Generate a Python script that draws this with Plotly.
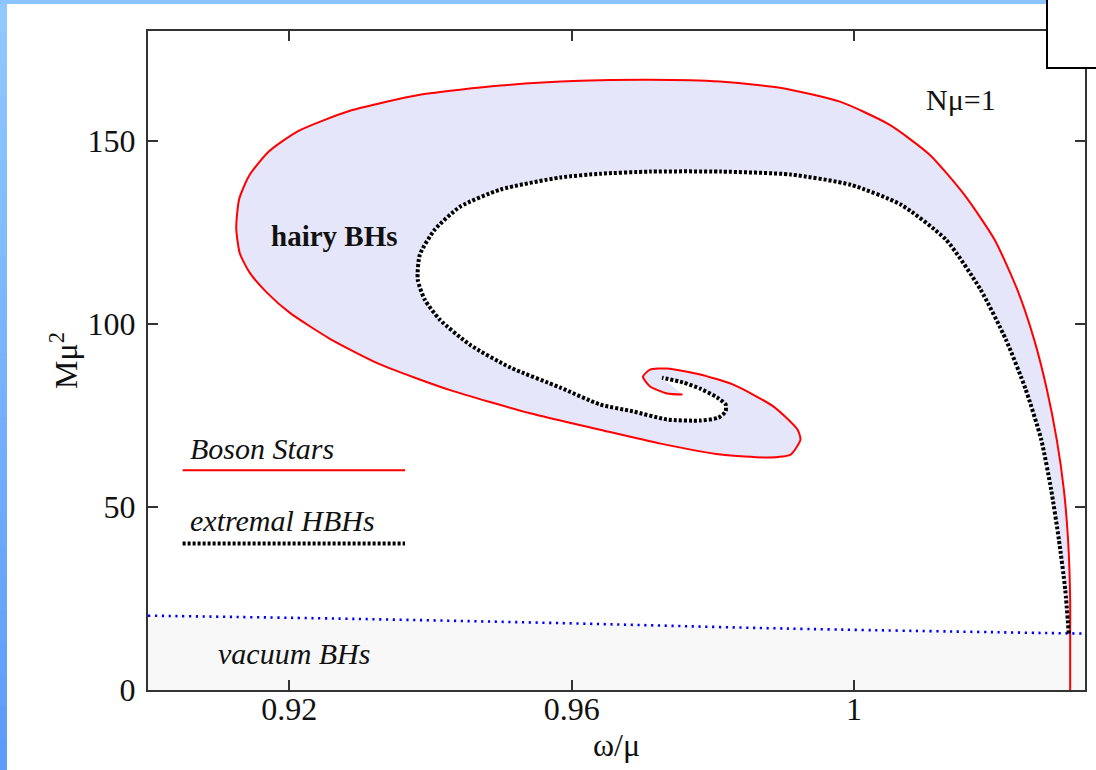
import plotly.graph_objects as go

# ---------------- data ----------------
# Boson-star curve (red spiral)
bs_omega = [1.0306, 1.0306, 1.0306, 1.0303, 1.0297, 1.0287, 1.0273, 1.0255, 1.0231, 1.0199,
            1.0156, 1.0107, 1.0050, 0.9980, 0.9895, 0.9810, 0.9711, 0.9612, 0.9499,
            0.9385, 0.9286, 0.9212, 0.9170, 0.9143, 0.9129, 0.9125, 0.9130, 0.9144, 0.9168,
            0.9201, 0.9257, 0.9328, 0.9428, 0.9541, 0.9640, 0.9726, 0.9811, 0.9877,
            0.9910, 0.9924, 0.9920, 0.9886, 0.9829, 0.9782, 0.9735, 0.9711, 0.9701,
            0.9711, 0.9735, 0.9757]
bs_mass = [0.0, 15.4, 24.7, 41.1, 54.8, 68.4, 82.1, 95.7, 109.4, 123.0,
           135.3, 146.2, 154.4, 160.7, 164.5, 166.2, 166.7, 166.4, 165.1,
           162.6, 158.2, 152.6, 146.9, 140.4, 134.0, 126.1, 119.3, 114.0, 108.6,
           103.0, 96.0, 89.0, 81.9, 75.6, 71.1, 67.3, 64.3, 63.5,
           64.3, 68.4, 71.1, 77.4, 83.4, 86.2, 87.8, 87.5, 85.6,
           82.9, 81.0, 80.7]

# Extremal hairy black holes (black dotted spiral)
ext_omega = [1.0304, 1.0299, 1.0290, 1.0279, 1.0265, 1.0243, 1.0215, 1.0179, 1.0130,
             1.0066, 0.9995, 0.9910, 0.9811, 0.9711, 0.9640, 0.9584, 0.9499, 0.9442,
             0.9406, 0.9385, 0.9382, 0.9392, 0.9413, 0.9456, 0.9513, 0.9584, 0.9640,
             0.9687, 0.9735, 0.9782, 0.9808, 0.9818, 0.9818, 0.9806, 0.9782, 0.9758,
             0.9728]
ext_mass = [15.4, 27.4, 41.1, 54.8, 68.4, 82.1, 95.7, 109.4, 123.0,
            132.6, 138.0, 140.8, 141.6, 141.6, 141.0, 140.0, 136.7, 132.0,
            125.7, 118.9, 112.1, 106.6, 101.2, 94.3, 88.1, 82.6, 78.0,
            76.1, 73.9, 73.6, 74.4, 76.1, 78.0, 79.9, 82.3, 84.0,
            85.3]

# Vacuum (Kerr) black holes limit (blue dotted line)
vac_omega = [0.9, 0.93, 0.96, 0.99, 1.0327]
vac_mass = [20.3, 19.4, 18.2, 16.8, 15.4]

x_tick_vals = [0.92, 0.96, 1.0]
x_tick_text = ["0.92", "0.96", "1"]
y_tick_vals = [0, 50, 100, 150]

x_range = [0.9, 1.0327]
y_range = [0, 180]

# legend sample lines
leg_omega = [0.9049, 0.9364]
leg_bs_mass = [60, 60]
leg_ext_mass = [40, 40]

# ---------------- figure ----------------
W, H = 1096, 770
L, R, T, B = 148, 11, 31, 80
FONT = "Liberation Serif, Times New Roman, serif"

fig = go.Figure()

# vacuum BH region (light grey)
fig.add_trace(go.Scatter(x=vac_omega, y=vac_mass, mode="lines", fill="tozeroy",
                         fillcolor="#f8f8f8", line=dict(width=0), hoverinfo="skip",
                         showlegend=False))

# hairy BH region (lavender) between red and black curves
hairy_x = bs_omega[1:] + ext_omega[::-1]
hairy_y = bs_mass[1:] + ext_mass[::-1]
fig.add_trace(go.Scatter(x=hairy_x, y=hairy_y, mode="lines", fill="toself",
                         fillcolor="#e6e6fa", line=dict(width=0, shape="spline", smoothing=0.6),
                         hoverinfo="skip", showlegend=False))

# blue dotted vacuum line
fig.add_trace(go.Scatter(x=vac_omega, y=vac_mass, mode="lines",
                         line=dict(color="#0000ff", width=2.6, dash="2.2px,4.6px", shape="spline"),
                         showlegend=False))

# boson stars
fig.add_trace(go.Scatter(x=bs_omega, y=bs_mass, mode="lines",
                         line=dict(color="#ff0000", width=2, shape="spline", smoothing=0.6),
                         name="Boson Stars", showlegend=False))

# extremal HBHs
fig.add_trace(go.Scatter(x=ext_omega, y=ext_mass, mode="lines",
                         line=dict(color="#000000", width=4, dash="3px,2px",
                                   shape="spline", smoothing=0.6),
                         name="extremal HBHs", showlegend=False))

# manual legend samples
fig.add_trace(go.Scatter(x=leg_omega, y=leg_bs_mass, mode="lines",
                         line=dict(color="#ff0000", width=2), showlegend=False))
fig.add_trace(go.Scatter(x=leg_omega, y=leg_ext_mass, mode="lines",
                         line=dict(color="#000000", width=4, dash="3px,2px"),
                         showlegend=False))

annots = [
    dict(x=0.92645, y=124.1, text="<b>hairy BHs</b>", size=29),
    dict(x=1.0152, y=161.3, text="Nμ=1", size=30),
]
for a in annots:
    fig.add_annotation(x=a["x"], y=a["y"], xref="x", yref="y", text=a["text"],
                       showarrow=False, font=dict(family=FONT, size=a["size"], color="#111"),
                       xanchor="center", yanchor="middle")

left_annots = [
    dict(x=0.9057, y=65.9, text="<i>Boson Stars</i>"),
    dict(x=0.9057, y=46.3, text="<i>extremal HBHs</i>"),
    dict(x=0.9097, y=10.0, text="<i>vacuum BHs</i>"),
]
for a in left_annots:
    fig.add_annotation(x=a["x"], y=a["y"], xref="x", yref="y", text=a["text"],
                       showarrow=False, font=dict(family=FONT, size=30, color="#111"),
                       xanchor="left", yanchor="middle")

# ---------------- slide decoration (outside the plot) ----------------
pw = W - L - R
ph = H - T - B
def px_x(p):
    return (p - L) / pw
def px_y(p):
    return (H - B - p) / ph

shapes = []
# left blue gradient strip
nb = 24
c_top = (0x90, 0xc8, 0xff)
c_bot = (0x5c, 0x9c, 0xfa)
for i in range(nb):
    t = i / (nb - 1)
    col = tuple(int(round(c_top[k] + (c_bot[k] - c_top[k]) * t)) for k in range(3))
    y0 = H * i / nb
    y1 = H * (i + 1) / nb + 1
    shapes.append(dict(type="rect", xref="paper", yref="paper",
                       x0=px_x(-1), x1=px_x(7), y0=px_y(y1), y1=px_y(y0),
                       fillcolor="rgb(%d,%d,%d)" % col, line=dict(width=0), layer="above"))
# top blue strip
shapes.append(dict(type="rect", xref="paper", yref="paper",
                   x0=px_x(0), x1=px_x(1050), y0=px_y(4), y1=px_y(-1),
                   fillcolor="#8cc4ff", line=dict(width=0), layer="above"))
# white box at top right
shapes.append(dict(type="rect", xref="paper", yref="paper",
                   x0=px_x(1047), x1=px_x(1100), y0=px_y(68), y1=px_y(-3),
                   fillcolor="#ffffff", line=dict(color="#000000", width=2), layer="above"))

fig.update_layout(
    width=W, height=H,
    margin=dict(l=L, r=R, t=T, b=B, autoexpand=False),
    paper_bgcolor="#ffffff", plot_bgcolor="#ffffff",
    shapes=shapes,
    showlegend=False,
    font=dict(family=FONT, color="#111"),
)

fig.update_xaxes(
    range=x_range, tickvals=x_tick_vals, ticktext=x_tick_text,
    ticks="inside", ticklen=10, tickwidth=1.5, tickcolor="#333",
    showline=True, linecolor="#333", linewidth=2, mirror="ticks",
    showgrid=False, zeroline=False, automargin=False, ticklabelstandoff=-10,
    tickfont=dict(family=FONT, size=32, color="#111"),
    title=dict(text="ω/μ", font=dict(family=FONT, size=32, color="#111"), standoff=2),
)
fig.update_yaxes(
    range=y_range, tickvals=y_tick_vals,
    ticks="inside", ticklen=10, tickwidth=1.5, tickcolor="#333",
    showline=True, linecolor="#333", linewidth=2, mirror="ticks",
    showgrid=False, zeroline=False, automargin=False, ticklabelstandoff=4,
    tickfont=dict(family=FONT, size=32, color="#111"),
    title=dict(text="Mμ<sup>2</sup>", font=dict(family=FONT, size=32, color="#111"), standoff=0),
)

fig.write_html(
    "out.html",
    config={"displayModeBar": False},
    post_script="document.body.style.margin='0';document.body.style.padding='0';"
                "document.body.style.overflow='hidden';",
)
